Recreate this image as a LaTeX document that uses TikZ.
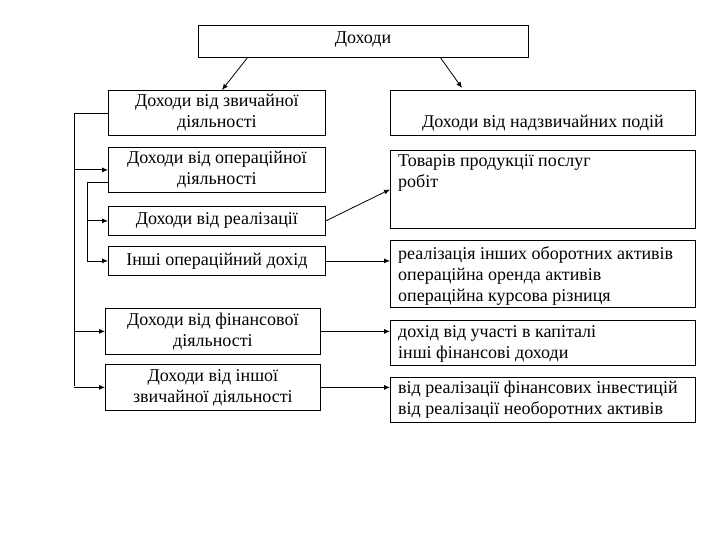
\documentclass[tikz,border=0pt]{standalone}
\usepackage{fontspec}
\setmainfont{Liberation Serif}
\usetikzlibrary{arrows.meta}
\begin{document}
\begin{tikzpicture}[x=1pt,y=-1pt,font=\fontsize{18}{21}\selectfont]
\tikzstyle{box}=[draw,thick,anchor=north west,inner sep=0pt,align=center]
\tikzstyle{lbl}=[anchor=north west,inner sep=0pt,align=left]
\tikzstyle{arr}=[thick,-{Latex[length=6pt,width=5pt]}]
\useasboundingbox (0,0) rectangle (720,540);
%Top
\node[box,minimum width=330,minimum height=32] (top) at (198,25) {};
\node at (363,40) {Доходи};
%Left column
\foreach \name/\y/\h/\txt in {l1/90/45/{Доходи від звичайної\\діяльності}, l2/147/45/{Доходи від операційної\\діяльності}, l3/206/29/{Доходи від реалізації}, l4/246/29/{Інші операційний дохід}}
\node[box,minimum width=217,minimum height=\h] (\name) at (108,\y) {\txt};
\foreach \name/\y/\txt in {l5/308/{Доходи від фінансової\\діяльності}, l6/364/{Доходи від іншої\\звичайної діяльності}}
\node[box,minimum width=215,minimum height=46] (\name) at (105,\y) {\txt};
%Right column
\foreach \name/\y/\h in {r1/90/45, r2/150/78, r3/240/67, r4/320/45, r5/377/45}
\node[box,minimum width=305,minimum height=\h] (\name) at (390,\y) {};
\node[anchor=south] at ([yshift=1]r1.south) {Доходи від надзвичайних подій};
\node[lbl] at ([xshift=8,yshift=-4]r2.north west) {Товарів продукції послуг\\робіт};
\node[lbl] at ([xshift=8,yshift=-6]r3.north west) {реалізація інших оборотних активів\\операційна оренда активів\\операційна курсова різниця};
\node[lbl] at ([xshift=8,yshift=-5]r4.north west) {дохід від участі в капіталі\\інші фінансові доходи};
\node[lbl] at ([xshift=8,yshift=-4]r5.north west) {від реалізації фінансових інвестицій\\від реалізації необоротних активів};
%Links
\coordinate (a1) at (248,57); \coordinate (a2) at (222,90);
\coordinate (b1) at (440,57); \coordinate (b2) at (462,88);
\draw[arr] (a1) -- (a2);
\draw[arr] (b1) -- (b2);
\coordinate (o1) at (74,113); \coordinate (o2) at (74,386);
\draw[thick] (l1.west |- o1) -- (o1) -- (o2);
\foreach \n in {l2,l5,l6}
\draw[arr] (o1 |- \n.west) -- (\n.west);
\coordinate (i1) at (87,182); \coordinate (i2) at (87,262);
\draw[thick] (l2.west |- i1) -- (i1) -- (i2);
\foreach \n in {l3,l4}
\draw[arr] (i1 |- \n.west) -- (\n.west);
\draw[arr] (l3.east) -- (r2.west);
\draw[arr] (l4.east) -- (l4.east -| r3.west);
\draw[arr] (l5.east) -- (l5.east -| r4.west);
\draw[arr] (l6.east) -- (l6.east -| r5.west);
\end{tikzpicture}
\end{document}
